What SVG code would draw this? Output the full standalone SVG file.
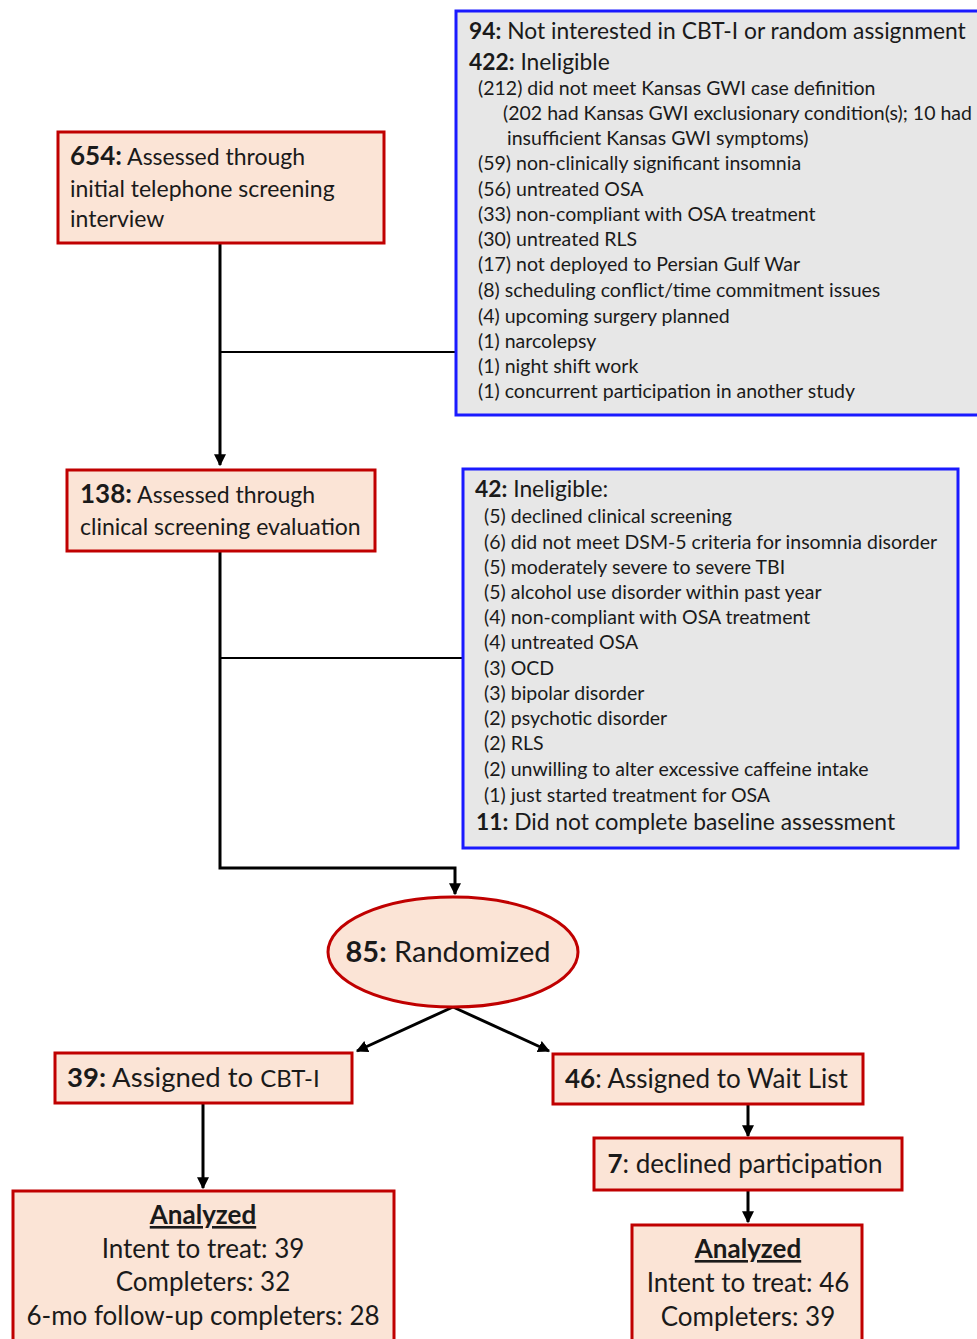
<svg xmlns="http://www.w3.org/2000/svg" width="977" height="1339" viewBox="0 0 977 1339">
<style>
text{font-family:Lato,"Open Sans","Noto Sans",sans-serif;fill:#1a1a1a}
.b{font-weight:bold}
.red{fill:#fbe4d6;stroke:#c00000;stroke-width:3}
.blue{fill:#e7e7e7;stroke:#1a1aff;stroke-width:3}
.conn{fill:none;stroke:#000;stroke-width:3}
.t22{font-size:22.8px}
.t23{font-size:23px}
.t18{font-size:19.5px}
.t25{font-size:26px}
.c{text-anchor:middle}
</style>
<defs>
<marker id="ah" viewBox="0 0 10 10" refX="9" refY="5" markerWidth="4" markerHeight="4" orient="auto" markerUnits="strokeWidth">
<path d="M0,0 L10,5 L0,10 Z" fill="#000"/>
</marker>
</defs>
<g id="connectors">
<path class="conn" d="M220,243 V465" marker-end="url(#ah)"/>
<path class="conn" d="M220,352 H456" style="stroke-width:2"/>
<path class="conn" d="M220,551 V868 H455 V894" marker-end="url(#ah)"/>
<path class="conn" d="M220,658 H463" style="stroke-width:2"/>
<path class="conn" d="M453,1007 L357,1051" marker-end="url(#ah)"/>
<path class="conn" d="M453,1007 L549,1051" marker-end="url(#ah)"/>
<path class="conn" d="M203,1104 V1188" marker-end="url(#ah)"/>
<path class="conn" d="M748,1104 V1136" marker-end="url(#ah)"/>
<path class="conn" d="M748,1190 V1222" marker-end="url(#ah)"/>
</g>
<g id="exclusion1">
<rect class="blue" x="456" y="11" width="524" height="404"/>
<text x="469" y="39" class="t22"><tspan class="b">94:</tspan> Not interested in CBT-I or random assignment</text>
<text x="469" y="70" class="t22"><tspan class="b">422:</tspan> Ineligible</text>
<g class="t18">
<text x="478" y="95">(212) did not meet Kansas GWI case definition</text>
<text x="503" y="120">(202 had Kansas GWI exclusionary condition(s); 10 had</text>
<text x="507" y="145">insufficient Kansas GWI symptoms)</text>
<text x="478" y="170">(59) non-clinically significant insomnia</text>
<text x="478" y="196">(56) untreated OSA</text>
<text x="478" y="221">(33) non-compliant with OSA treatment</text>
<text x="478" y="246">(30) untreated RLS</text>
<text x="478" y="271">(17) not deployed to Persian Gulf War</text>
<text x="478" y="297">(8) scheduling conflict/time commitment issues</text>
<text x="478" y="323">(4) upcoming surgery planned</text>
<text x="478" y="348">(1) narcolepsy</text>
<text x="478" y="373">(1) night shift work</text>
<text x="478" y="398">(1) concurrent participation in another study</text>
</g>
</g>
<g id="screen1">
<rect class="red" x="58" y="132" width="326" height="111"/>
<text x="70" y="165" class="t23"><tspan class="b" style="font-size:26px">654:</tspan> Assessed through</text>
<text x="70" y="197" class="t23">initial telephone screening</text>
<text x="70" y="227" class="t23">interview</text>
</g>
<g id="screen2">
<rect class="red" x="67" y="470" width="308" height="81"/>
<text x="80" y="503" class="t23"><tspan class="b" style="font-size:26px">138:</tspan> Assessed through</text>
<text x="80" y="535" class="t23">clinical screening evaluation</text>
</g>
<g id="exclusion2">
<rect class="blue" x="463" y="469" width="495" height="379"/>
<text x="475" y="497" class="t22"><tspan class="b">42:</tspan> Ineligible:</text>
<g class="t18">
<text x="484" y="523">(5) declined clinical screening</text>
<text x="484" y="549">(6) did not meet DSM-5 criteria for insomnia disorder</text>
<text x="484" y="574">(5) moderately severe to severe TBI</text>
<text x="484" y="599">(5) alcohol use disorder within past year</text>
<text x="484" y="624">(4) non-compliant with OSA treatment</text>
<text x="484" y="649">(4) untreated OSA</text>
<text x="484" y="675">(3) OCD</text>
<text x="484" y="700">(3) bipolar disorder</text>
<text x="484" y="725">(2) psychotic disorder</text>
<text x="484" y="750">(2) RLS</text>
<text x="484" y="776">(2) unwilling to alter excessive caffeine intake</text>
<text x="484" y="802">(1) just started treatment for OSA</text>
</g>
<text x="476" y="830" class="t22"><tspan class="b">11:</tspan> Did not complete baseline assessment</text>
</g>
<g id="randomized">
<ellipse class="red" cx="453" cy="952" rx="125" ry="55"/>
<text x="448" y="962" class="c" style="font-size:29px"><tspan class="b">85:</tspan> Randomized</text>
</g>
<g id="cbti">
<rect class="red" x="55" y="1053" width="297" height="50"/>
<text x="67" y="1087" style="font-size:27.5px"><tspan class="b">39:</tspan> Assigned to <tspan style="font-size:24px">CBT-I</tspan></text>
</g>
<g id="waitlist">
<rect class="red" x="553" y="1054" width="310" height="50"/>
<text x="565" y="1088" class="t25"><tspan class="b">46</tspan>: Assigned to Wait List</text>
</g>
<g id="declined">
<rect class="red" x="594" y="1138" width="308" height="52"/>
<text x="745" y="1173" class="t25 c"><tspan class="b">7</tspan>: declined participation</text>
</g>
<g id="analyzed1">
<rect class="red" x="13" y="1191" width="381" height="160"/>
<text x="203" y="1224" class="t25 c b" text-decoration="underline">Analyzed</text>
<text x="203" y="1258" class="t25 c">Intent to treat: 39</text>
<text x="203" y="1291" class="t25 c">Completers: 32</text>
<text x="203" y="1325" class="t25 c">6-mo follow-up completers: 28</text>
</g>
<g id="analyzed2">
<rect class="red" x="632" y="1225" width="230" height="126"/>
<text x="748" y="1258" class="t25 c b" text-decoration="underline">Analyzed</text>
<text x="748" y="1292" class="t25 c">Intent to treat: 46</text>
<text x="748" y="1326" class="t25 c">Completers: 39</text>
</g>
</svg>
